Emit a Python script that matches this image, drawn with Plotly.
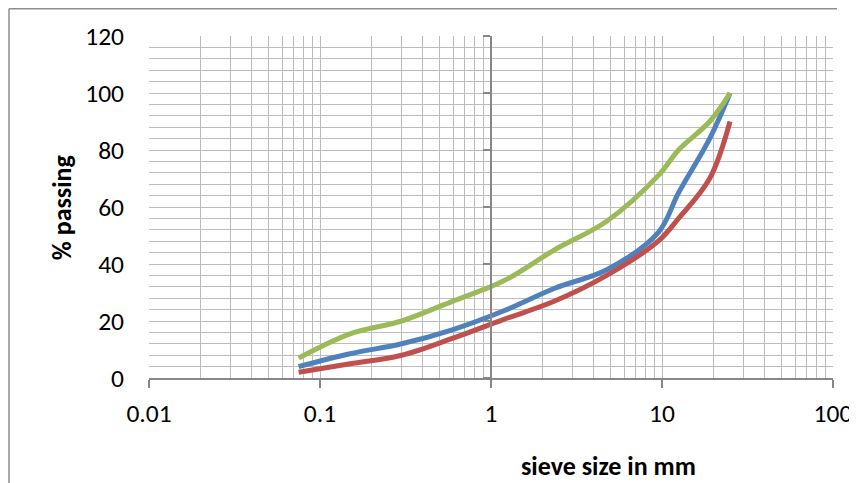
import plotly.graph_objects as go

sieve_mm = [0.075, 0.15, 0.3, 0.6, 1.18, 2.36, 4.75, 9.5, 12.5, 19, 25]
series_blue = [4, 8.5, 12, 17, 23.5, 31.5, 38, 51, 65, 84, 100]
series_red = [2, 5, 8, 14, 20.5, 27, 36, 48, 56, 70, 90]
series_green = [7, 15.5, 20, 27, 34, 45, 55, 71, 80, 90, 100]
x_tick_vals = [0.01, 0.1, 1, 10, 100]
x_tick_text = ["0.01", "0.1", "1", "10", "100"]
y_tick_vals = [0, 20, 40, 60, 80, 100, 120]

FONT = "Carlito, Calibri, Open Sans, sans-serif"
GRID = "#BDBDBD"
AXIS = "#878787"

fig = go.Figure()
for vals, col in [(series_blue, "#4F81BD"), (series_red, "#C0504D"), (series_green, "#9BBB59")]:
    fig.add_trace(go.Scatter(x=sieve_mm, y=vals, mode="lines",
                             line=dict(color=col, width=5, shape="spline", smoothing=1.0),
                             showlegend=False, hoverinfo="skip"))

# helper trace for the vertical axis line crossing at x=1
fig.add_trace(go.Scatter(x=[1], y=[0], yaxis="y2", mode="markers",
                         marker=dict(opacity=0), showlegend=False, hoverinfo="skip"))

fig.update_layout(
    width=849, height=475,
    margin=dict(l=141, r=24, t=28, b=105, autoexpand=False),
    paper_bgcolor="white", plot_bgcolor="white",
    font=dict(family=FONT, size=25, color="#000000"),
    xaxis=dict(type="log", range=[-2, 2], tickvals=x_tick_vals, ticktext=x_tick_text,
               showgrid=True, gridcolor=GRID, gridwidth=1.2,
               minor=dict(dtick="D1", showgrid=True, gridcolor=GRID, gridwidth=1.2, ticks=""),
               showline=True, linecolor=AXIS, linewidth=1.5,
               ticks="outside", ticklen=8, tickcolor=AXIS, tickwidth=1.5,
               ticklabelstandoff=4, zeroline=False, automargin=False,
               tickfont=dict(family=FONT, size=25.5)),
    yaxis=dict(range=[0, 120], tickvals=y_tick_vals,
               showgrid=True, gridcolor=GRID, gridwidth=1.2,
               minor=dict(dtick=4, showgrid=True, gridcolor=GRID, gridwidth=1.2, ticks=""),
               showline=False, zeroline=False, ticks="",
               ticklabelstandoff=24, automargin=False,
               tickfont=dict(family=FONT, size=25.5)),
    yaxis2=dict(range=[0, 120], overlaying="y", anchor="free", position=0.5,
                tickvals=y_tick_vals, showticklabels=False, showgrid=False, zeroline=False,
                showline=True, linecolor=AXIS, linewidth=1.5,
                ticks="outside", ticklen=7, tickcolor=AXIS, tickwidth=1.5),
    annotations=[
        dict(text="<b>% passing</b>", textangle=-90, xref="paper", yref="paper",
             x=-0.127, y=0.5, xanchor="center", yanchor="middle", showarrow=False,
             font=dict(family=FONT, size=26)),
        dict(text="<b>sieve size in mm</b>", xref="paper", yref="paper",
             x=0.6725, y=-0.258, xanchor="center", yanchor="middle", showarrow=False,
             font=dict(family=FONT, size=26)),
    ],
    shapes=[
        dict(type="line", xref="paper", yref="paper", x0=-0.2047, x1=1.0058, y0=1.0797, y1=1.0797,
             line=dict(color="#8E8E8E", width=1.5)),
        dict(type="line", xref="paper", yref="paper", x0=-0.2047, x1=-0.2047, y0=-0.32, y1=1.0797,
             line=dict(color="#8E8E8E", width=1.5)),
    ],
)

fig.write_html("out.html")
